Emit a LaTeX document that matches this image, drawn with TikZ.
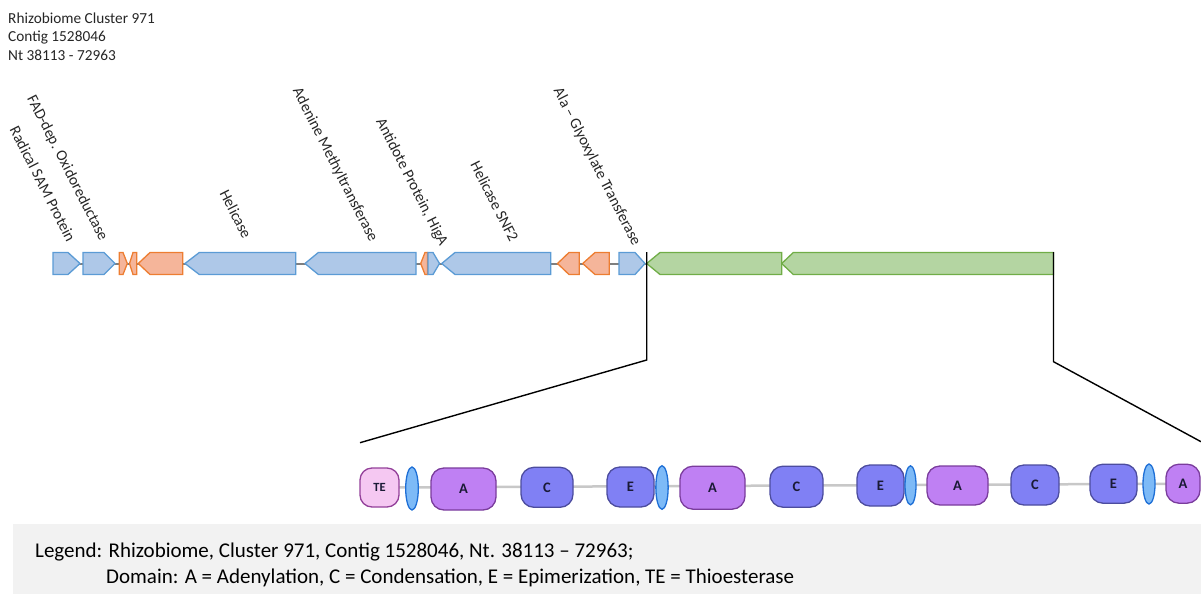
\documentclass[tikz,border=0pt]{standalone}
\usepackage{fontspec}
\setmainfont{Carlito}
\usetikzlibrary{shapes.geometric}
\pgfdeclarelayer{bg}
\pgfsetlayers{bg,main}

\definecolor{gblue}{HTML}{AEC8E8}
\definecolor{gblueline}{HTML}{5B9BD5}
\definecolor{gorange}{HTML}{F5B59A}
\definecolor{gorangeline}{HTML}{ED7D31}
\definecolor{ggreen}{HTML}{B4D5A2}
\definecolor{ggreenline}{HTML}{70AD47}
\definecolor{backbone}{HTML}{7F7F7F}
\definecolor{labeltext}{HTML}{262626}
\definecolor{domTE}{HTML}{F5C8F2}
\definecolor{domTEline}{HTML}{93409A}
\definecolor{domA}{HTML}{BF80F3}
\definecolor{domAline}{HTML}{7A3C9C}
\definecolor{domCE}{HTML}{8080F4}
\definecolor{domCEline}{HTML}{4C4C9E}
\definecolor{linkfill}{HTML}{7DBAF7}
\definecolor{linkline}{HTML}{1E6FD6}
\definecolor{domtext}{HTML}{1A1A35}
\definecolor{domlink}{HTML}{C8C8C8}
\definecolor{legendbg}{HTML}{F2F2F2}

% right- and left-pointing gene arrows: {style}{start/tip}{head}{end}
\newcommand{\geneR}[4]{\draw[#1] (#2,252.5) -- (#3,252.5) -- (#4,263.5) -- (#3,274.5) -- (#2,274.5) -- cycle;}
\newcommand{\geneL}[4]{\draw[#1] (#2,263.5) -- (#3,252.5) -- (#4,252.5) -- (#4,274.5) -- (#3,274.5) -- cycle;}
% domain letter, set slightly below the centre of its box
\newcommand{\domlbl}[1]{\raisebox{-2.5pt}{#1}}

\tikzset{
  bluegene/.style={fill=gblue, draw=gblueline, line width=1.3pt, line join=miter},
  orangegene/.style={fill=gorange, draw=gorangeline, line width=1.3pt, line join=miter},
  greengene/.style={fill=ggreen, draw=ggreenline, line width=1.3pt, line join=miter},
  glabel/.style={rotate=-63, anchor=base east, inner sep=0pt, text=labeltext,
    font=\fontsize{15.5}{18}\selectfont},
  titletext/.style={anchor=base west, inner sep=0pt, text=labeltext,
    font=\fontsize{15.3}{18}\selectfont},
  legendtext/.style={anchor=base west, inner sep=0pt, text=black,
    font=\fontsize{21}{25}\selectfont},
  dom/.style={draw, rounded corners=13pt, line width=1.3pt, inner sep=0pt,
    text=domtext, font=\bfseries\fontsize{14.5}{16}\selectfont},
  domte/.style={dom, fill=domTE, draw=domTEline, font=\bfseries\fontsize{12.5}{14}\selectfont},
  doma/.style={dom, fill=domA, draw=domAline},
  domce/.style={dom, fill=domCE, draw=domCEline},
  linker/.style={ellipse, fill=linkfill, draw=linkline, line width=1.3pt, inner sep=0pt},
  zoomline/.style={draw=black, line width=1.4pt},
}

\begin{document}
\begin{tikzpicture}[x=1pt, y=-1pt]
\useasboundingbox (0,0) rectangle (1201,594);
\clip (0,0) rectangle (1201,594);

% header
\node[titletext] (t1) at (8,23.3) {Rhizobiome Cluster 971};
\node[titletext] (t2) at (8,41.7) {Contig 1528046};
\node[titletext] (t3) at (8,60.0) {Nt 38113 - 72963};

% contig backbone
\draw[backbone, line width=2pt] (53,263.5) -- (646,263.5);

% genes
\geneR{bluegene}{53}{68}{80}
\geneR{bluegene}{83}{104}{115}
\geneR{orangegene}{119.3}{123}{127.3}
\geneL{orangegene}{129.5}{133}{136.7}
\geneL{orangegene}{138.3}{150}{182.7}
\geneL{bluegene}{185}{199.3}{295.7}
\geneL{bluegene}{305}{318.3}{416}
\geneL{orangegene}{420.7}{425}{427.5}
\geneR{bluegene}{428}{433}{439.5}
\geneL{bluegene}{441.7}{455}{550.7}
\geneL{orangegene}{557.5}{569}{579.3}
\geneL{orangegene}{582.7}{595}{609.3}
\geneR{bluegene}{619}{635}{645}
\geneL{greengene}{646.7}{660}{781.7}
\geneL{greengene}{781.7}{793.3}{1053.5}

% gene annotations
\node[glabel] (g1) at (67,243) {Radical SAM Protein};
\node[glabel] (g2) at (100,242) {FAD-dep. Oxidoreductase};
\node[glabel] (g3) at (243,240) {Helicase};
\node[glabel] (g4) at (370,243) {Adenine Methyltransferase};
\node[glabel] (g5) at (440,247) {Antidote Protein, HigA};
\node[glabel] (g6) at (510,243) {Helicase SNF2};
\node[glabel] (g7) at (633,247) {Ala -- Glyoxylate Transferase};

% zoom guides to the domain view
\coordinate (zLtop) at (646.7,252);
\coordinate (zLknee) at (646.7,360);
\coordinate (zLend) at (360,442.7);
\coordinate (zRtop) at (1053.5,252);
\coordinate (zRknee) at (1053.5,361.7);
\coordinate (zRend) at (1201,441.7);
\draw[zoomline] (zLtop) -- (zLknee) -- (zLend);
\draw[zoomline] (zRtop) -- (zRknee) -- (zRend);

% NRPS domain string
\node[domte, minimum width=39pt, minimum height=39pt, rounded corners=12pt] (te) at (379.5,487.5) {\domlbl{TE}};
\node[linker, minimum width=12.6pt, minimum height=43pt] (l1) at (412,488.5) {};
\node[doma, minimum width=65pt, minimum height=42pt] (a1) at (463.5,489) {\domlbl{A}};
\node[domce, minimum width=52pt, minimum height=40pt] (c1) at (547,487.3) {\domlbl{C}};
\node[domce, minimum width=47pt, minimum height=40pt] (e1) at (630.5,487) {\domlbl{E}};
\node[linker, minimum width=12.3pt, minimum height=43.6pt] (l2) at (662,487.5) {};
\node[doma, minimum width=65pt, minimum height=43pt] (a2) at (712.5,487.7) {\domlbl{A}};
\node[domce, minimum width=53pt, minimum height=41pt] (c2) at (796.5,486.7) {\domlbl{C}};
\node[domce, minimum width=47pt, minimum height=41pt] (e2) at (880.5,485.5) {\domlbl{E}};
\node[linker, minimum width=11pt, minimum height=39pt] (l3) at (910.5,485.3) {};
\node[doma, minimum width=61pt, minimum height=39pt] (a3) at (957.5,485.5) {\domlbl{A}};
\node[domce, minimum width=48pt, minimum height=40pt] (c3) at (1035,485) {\domlbl{C}};
\node[domce, minimum width=47pt, minimum height=39pt] (e3) at (1113.5,483.7) {\domlbl{E}};
\node[linker, minimum width=12pt, minimum height=40pt] (l4) at (1149,484) {};
\node[doma, minimum width=34pt, minimum height=39pt] (a4) at (1183,483.7) {\domlbl{A}};

\begin{pgfonlayer}{bg}
  \draw[domlink, line width=2.5pt] (te.center) -- (a4.center);
\end{pgfonlayer}

% legend
\fill[legendbg] (13,524) rectangle (1201,594);
\node[legendtext] (leg1) at (35,557) {Legend: Rhizobiome, Cluster 971, Contig 1528046, Nt. 38113 -- 72963;};
\node[legendtext] (leg2) at (106,583) {Domain: A = Adenylation, C = Condensation, E = Epimerization, TE = Thioesterase};
\end{tikzpicture}
\end{document}
